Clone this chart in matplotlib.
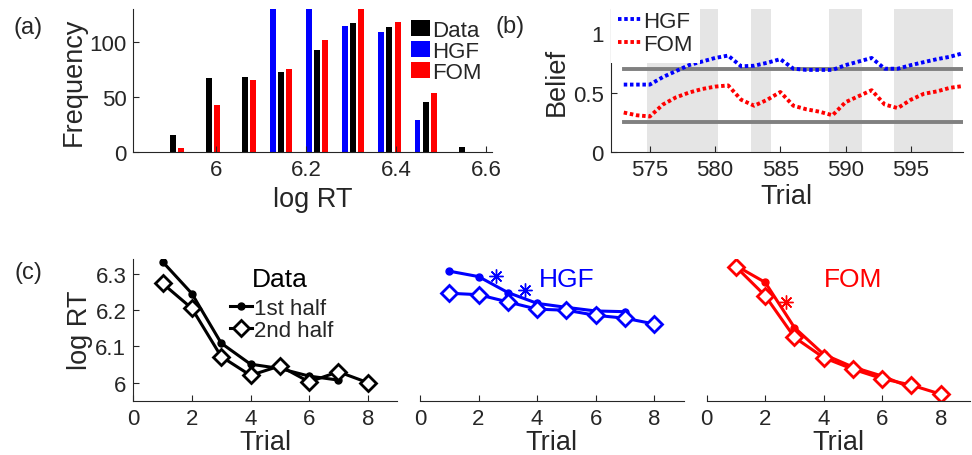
import numpy as np
import matplotlib
matplotlib.use("Agg")
import matplotlib.pyplot as plt

plt.rcParams['font.family'] = ['Liberation Sans', 'DejaVu Sans']
TXT = '#262626'
plt.rcParams['text.color'] = TXT
plt.rcParams['axes.labelcolor'] = TXT
plt.rcParams['xtick.color'] = TXT
plt.rcParams['ytick.color'] = TXT
plt.rcParams['axes.edgecolor'] = TXT

# ---------------- data ----------------
# (a) histogram of log RT
bin_centers = [5.905, 5.985, 6.065, 6.145, 6.225, 6.305, 6.385, 6.465, 6.545]
freq_data = [16, 67, 68, 73, 93, 117, 114, 46, 5]
freq_hgf = [0, 0, 0, 160, 150, 115, 109, 29, 0]
freq_fom = [4, 43, 66, 76, 102, 132, 118, 54, 0]

# (b) beliefs over trials
trials_b = list(range(573, 600))
belief_hgf = [0.567, 0.567, 0.567, 0.63, 0.68, 0.73, 0.76, 0.79, 0.81, 0.72,
              0.725, 0.75, 0.78, 0.70, 0.69, 0.69, 0.69, 0.73, 0.76, 0.79,
              0.70, 0.70, 0.73, 0.755, 0.78, 0.80, 0.83]
belief_fom = [0.333, 0.31, 0.30, 0.40, 0.46, 0.50, 0.53, 0.55, 0.56, 0.44,
              0.39, 0.44, 0.505, 0.39, 0.36, 0.34, 0.31, 0.42, 0.47, 0.52,
              0.40, 0.37, 0.44, 0.49, 0.51, 0.54, 0.555]
shade_start = [574.75, 582.75, 588.75, 593.75]
shade_end = [580.25, 584.25, 591.25, 598.25]
ref_levels = [0.7, 0.25]

# (c) log RT by trial within block
trials_first = [1, 2, 3, 4, 5, 6, 7]
trials_second = [1, 2, 3, 4, 5, 6, 7, 8]
data_first = [6.334, 6.246, 6.109, 6.051, 6.039, 6.018, 6.007]
data_second = [6.274, 6.205, 6.072, 6.020, 6.046, 6.002, 6.030, 6.000]
hgf_first = [6.308, 6.293, 6.249, 6.219, 6.208, 6.198, 6.196]
hgf_second = [6.247, 6.243, 6.223, 6.203, 6.200, 6.186, 6.178, 6.162]
fom_first = [6.323, 6.277, 6.152, 6.078, 6.043, 6.018, 5.986]
fom_second = [6.320, 6.240, 6.125, 6.069, 6.037, 6.011, 5.993, 5.968]
hgf_star_x = [2.6, 3.57]
hgf_star_y = [6.294, 6.257]
fom_star_x = [2.72]
fom_star_y = [6.223]

# ---------------- figure ----------------
W, H = 972, 456
fig = plt.figure(figsize=(W / 100, H / 100), dpi=100)

def ax_px(l, t, r, b):
    return fig.add_axes([l / W, 1 - b / H, (r - l) / W, (b - t) / H])

TICK = 16
LAB = 19.5

def style(ax, hide_y=False):
    for s in ['top', 'right']:
        ax.spines[s].set_visible(False)
    ax.tick_params(direction='in', length=4, width=0.8, labelsize=TICK, pad=5)
    if hide_y:
        ax.spines['left'].set_visible(False)
        ax.set_yticks([])

# (a)
axa = ax_px(133.3, 10, 491.7, 153.3)
bc = np.array(bin_centers)
w = 0.0133
off = 0.0178
b_d = axa.bar(bc, freq_data, width=w, color='black', label='Data')
b_h = axa.bar(bc - off, freq_hgf, width=w, color='blue', label='HGF')
b_f = axa.bar(bc + off, freq_fom, width=w, color='red', label='FOM')
axa.set_xlim(5.816, 6.612)
axa.set_ylim(0, 130)
axa.set_xticks([6, 6.2, 6.4, 6.6])
axa.set_xticklabels(['6', '6.2', '6.4', '6.6'])
axa.set_yticks([0, 50, 100])
style(axa)
axa.set_xlabel('log RT', fontsize=LAB, labelpad=4)
axa.set_ylabel('Frequency', fontsize=LAB, labelpad=2)
axa.legend(handles=[b_d, b_h, b_f], loc='upper left', bbox_to_anchor=(0.775, 0.925),
           frameon=False, fontsize=16, handlelength=0.85, handleheight=0.7,
           handletextpad=0.1, labelspacing=0.0, borderpad=0, borderaxespad=0)
fig.text(28 / W, 1 - 28 / H, '(a)', fontsize=17, ha='center', va='center')

# (b)
axb = ax_px(610.7, 10, 963, 153.3)
for s0, s1 in zip(shade_start, shade_end):
    axb.axvspan(s0, s1, color='#e5e5e5', lw=0, zorder=0)
for lev in ref_levels:
    axb.plot([trials_b[0], trials_b[-1]], [lev, lev], color='#808080', lw=2.8, zorder=1)
axb.plot(trials_b, belief_hgf, color='blue', lw=2.8, ls=(0, (0.9, 0.7)), label='HGF', zorder=2)
axb.plot(trials_b, belief_fom, color='red', lw=2.8, ls=(0, (0.9, 0.7)), label='FOM', zorder=2)
axb.set_xlim(572, 599)
axb.set_ylim(0, 1.2)
axb.set_xticks([575, 580, 585, 590, 595])
axb.set_yticks([0, 0.5, 1])
axb.set_yticklabels(['0', '0.5', '1'])
style(axb)
axb.set_xlabel('Trial', fontsize=LAB, labelpad=2)
axb.set_ylabel('Belief', fontsize=LAB, labelpad=2)
lg = axb.legend(loc='upper left', bbox_to_anchor=(0, 1.04), frameon=True, facecolor='white',
                edgecolor='none', framealpha=1, fancybox=False, fontsize=16,
                handlelength=1.0, handletextpad=0.1, labelspacing=0.1,
                borderpad=0.35, borderaxespad=0)
lg.set_zorder(5)
fig.text(510 / W, 1 - 27 / H, '(b)', fontsize=17, ha='center', va='center')

# (c)
ylim_c = (5.95, 6.343)
lw_c = 2.2

def panel_c(ax, first, second, color, title, sx=None, sy=None, hide_y=False, legend=False):
    l1, = ax.plot(trials_first, first, color=color, lw=lw_c, marker='o', ms=5,
                  mfc=color, mec=color, label='1st half')
    l2, = ax.plot(trials_second, second, color=color, lw=lw_c, marker='D', ms=8,
                  mfc='white', mec=color, mew=2, label='2nd half')
    if sx is not None:
        ax.plot(sx, sy, ls='none', marker=(8, 2, 0), ms=10, color=color, mew=1.0)
    ax.text(5.0, 6.286, title, color=color, fontsize=19, ha='center', va='center')
    ax.set_xlim(0, 9)
    ax.set_ylim(*ylim_c)
    ax.set_xticks([0, 2, 4, 6, 8])
    style(ax, hide_y=hide_y)
    if not hide_y:
        ax.set_yticks([6, 6.1, 6.2, 6.3])
        ax.set_yticklabels(['6', '6.1', '6.2', '6.3'])
    ax.set_xlabel('Trial', fontsize=LAB, labelpad=0)
    if legend:
        ax.legend(handles=[l1, l2], loc='upper left', bbox_to_anchor=(0.365, 0.725),
                  frameon=False, fontsize=16, handlelength=1.0, handletextpad=0.1,
                  labelspacing=0.05, borderpad=0, borderaxespad=0)

axc1 = ax_px(133.3, 259.5, 397, 401.7)
panel_c(axc1, data_first, data_second, 'black', 'Data', legend=True)
axc1.set_ylabel('log RT', fontsize=LAB, labelpad=2)
axc2 = ax_px(420, 259.5, 683.5, 401.7)
panel_c(axc2, hgf_first, hgf_second, 'blue', 'HGF', hgf_star_x, hgf_star_y, hide_y=True)
axc3 = ax_px(706.7, 259.5, 970, 401.7)
panel_c(axc3, fom_first, fom_second, 'red', 'FOM', fom_star_x, fom_star_y, hide_y=True)
fig.text(28 / W, 1 - 273 / H, '(c)', fontsize=17, ha='center', va='center')

fig.savefig('out.png', dpi=100)
